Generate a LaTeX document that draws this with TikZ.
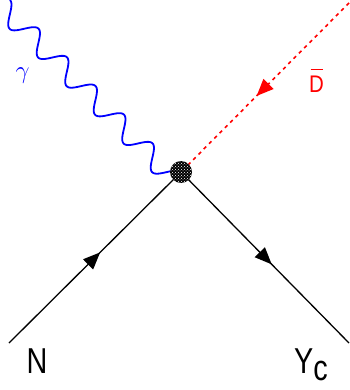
\documentclass[tikz,border=0pt]{standalone}
\usepackage{fontspec}
\setmainfont{Liberation Sans}
\usetikzlibrary{patterns,decorations.markings,arrows.meta,calc,backgrounds}
\tikzset{
  fline/.style={draw=black, line width=1.3pt},
  dline/.style={draw=red, line width=1.6pt, dash pattern=on 3.5pt off 4pt},
  midarrow/.style={postaction={decorate}, decoration={markings,
      mark=at position #1 with {\arrow{Triangle[length=17pt,width=14pt]}}}},
  photon/.style={draw=blue, line width=1.8pt, to path={
      let \p1=(\tikztostart), \p2=(\tikztotarget) in
      plot[domain=0:1, samples=289, smooth, variable=\t]
      ({\x1+(\x2-\x1)*\t-7.28pt*(1-cos(2160*\t))},
       {\y1+(\y2-\y1)*\t-7.28pt*(1-cos(2160*\t))})}},
  blob/.style={circle, minimum size=22pt, inner sep=0pt,
      preaction={fill=black}, pattern=crosshatch dots, pattern color=white},
  lab/.style={inner sep=0pt, font=\fontsize{36}{36}\selectfont, xscale=0.8},
}
\begin{document}
\begin{tikzpicture}[x=1pt, y=-1pt]
\useasboundingbox (0,0) rectangle (349,390);
\coordinate (g0) at (10,0);
\coordinate (d0) at (349,3);
\coordinate (n0) at (9,343);
\coordinate (y0) at (349,343);
\node[blob] (v) at (181,172) {};
\begin{scope}[on background layer]
  \draw[photon] (g0) to (v.center);
  \draw[dline, midarrow=0.55] (d0) -- (v.center);
  \draw[fline, midarrow=0.53] (n0) -- (v.center);
  \draw[fline, midarrow=0.54] (v.center) -- (y0);
\end{scope}
\node[lab, anchor=base] (nlab) at (37,373) {N};
\node[lab, anchor=base west] (ylab) at (294,373) {Y\raisebox{-7pt}{c}};
\node[inner sep=0pt, anchor=base, text=red, font=\fontsize{24}{24}\selectfont, xscale=0.85] (dlab) at (316.5,93)
  {\makebox[0pt][l]{\hspace{1.8pt}\rule[22.5pt]{14.5pt}{1.4pt}}D};
\node[inner sep=0pt, text=blue, font=\fontsize{34}{34}\selectfont] (glab) at (22.5,76) {$\gamma$};
\end{tikzpicture}
\end{document}
